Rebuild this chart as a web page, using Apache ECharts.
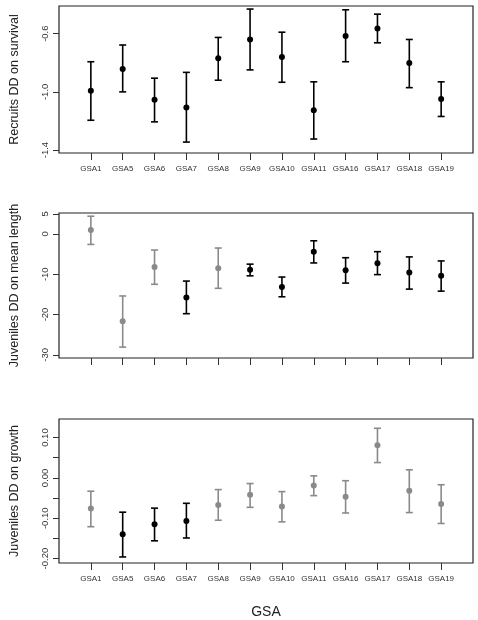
<!DOCTYPE html>
<html><head><meta charset="utf-8">
<script src="https://cdn.jsdelivr.net/npm/echarts@6/dist/echarts.min.js"></script>
<style>html,body{margin:0;padding:0;background:#fff}#c{width:478px;height:620px}</style>
</head><body><div id="c"></div>
<script>
const categories = ['GSA1','GSA5','GSA6','GSA7','GSA8','GSA9','GSA10','GSA11','GSA16','GSA17','GSA18','GSA19'];
// Panel 1: recruits DD on survival
const survMean = [-0.993,-0.842,-1.054,-1.108,-0.769,-0.640,-0.760,-1.126,-0.616,-0.565,-0.802,-1.049];
const survLow  = [-1.195,-1.000,-1.206,-1.345,-0.920,-0.849,-0.934,-1.324,-0.793,-0.663,-0.971,-1.169];
const survHigh = [-0.793,-0.678,-0.906,-0.866,-0.626,-0.431,-0.590,-0.931,-0.436,-0.466,-0.640,-0.931];
const survGray = [0,0,0,0,0,0,0,0,0,0,0,0];
// Panel 2: juveniles DD on mean length
const lenMean = [1.0,-21.7,-8.2,-15.8,-8.5,-8.9,-13.2,-4.4,-9.0,-7.3,-9.6,-10.4];
const lenLow  = [-2.6,-28.1,-12.5,-19.8,-13.5,-10.4,-15.6,-7.2,-12.2,-10.1,-13.7,-14.2];
const lenHigh = [4.4,-15.4,-4.0,-11.7,-3.5,-7.5,-10.7,-1.7,-5.9,-4.4,-5.7,-6.7];
const lenGray = [1,1,1,0,1,0,0,0,0,0,0,0];
// Panel 3: juveniles DD on growth
const grMean = [-0.076,-0.140,-0.115,-0.107,-0.067,-0.042,-0.071,-0.019,-0.047,0.081,-0.032,-0.065];
const grLow  = [-0.121,-0.196,-0.156,-0.149,-0.105,-0.073,-0.109,-0.044,-0.087,0.038,-0.086,-0.113];
const grHigh = [-0.033,-0.085,-0.075,-0.063,-0.029,-0.014,-0.034,0.005,-0.007,0.123,0.020,-0.017];
const grGray = [1,0,0,0,1,1,1,1,1,1,1,1];
const survTicks = [-1.4,-1.0,-0.6];
const lenTicks = [-30,-20,-10,0,5];
const grTicks = [-0.20,-0.10,0.00,0.10];
const grMinor = [-0.20,-0.15,-0.10,-0.05,0.00,0.05,0.10];

const BLACK='#000', GRAY='#8a8a8a';
const idx = categories.map((_,i)=>i+1);
const grids = [
  {left:54,right:5,top:6,height:147},
  {left:54,right:5,top:213,height:145},
  {left:54,right:5,top:419,height:148}
];
const panels = [
  {mean:survMean,lo:survLow,hi:survHigh,gray:survGray,min:-1.42,max:-0.41,ticks:survTicks,tickAll:survTicks,name:'Recruits DD on survival',fmt:v=>v.toFixed(1),labels:true},
  {mean:lenMean,lo:lenLow,hi:lenHigh,gray:lenGray,min:-30.8,max:5.2,ticks:lenTicks,tickAll:lenTicks,name:'Juveniles DD on mean length',fmt:v=>String(v),labels:false},
  {mean:grMean,lo:grLow,hi:grHigh,gray:grGray,min:-0.211,max:0.146,ticks:grTicks,tickAll:grMinor,name:'Juveniles DD on growth',fmt:v=>v.toFixed(2),labels:true}
];
const xAxis=[], yAxis=[], series=[];
panels.forEach((p,k)=>{
  xAxis.push({type:'value',gridIndex:k,min:0,max:13,position:'bottom',
    name:k===2?'GSA':'',nameLocation:'middle',nameGap:42,nameTextStyle:{fontSize:14,color:'#222',fontFamily:'Liberation Sans'},
    axisLine:{show:false,onZero:false},splitLine:{show:false},
    axisTick:{show:true,length:7,lineStyle:{color:'#333'},customValues:idx},
    axisLabel:{show:p.labels,fontSize:8,color:'#333',margin:12,fontFamily:'Liberation Sans',customValues:idx,formatter:v=>categories[Math.round(v)-1]||''}});
  yAxis.push({type:'value',gridIndex:k,min:p.min,max:p.max,position:'left',
    name:p.name,nameLocation:'middle',nameGap:38,nameTextStyle:{fontSize:12.5,color:'#222',fontFamily:'Liberation Sans'},
    axisLine:{show:false,onZero:false},splitLine:{show:false},
    axisTick:{show:true,length:6,lineStyle:{color:'#333'},customValues:p.tickAll},
    axisLabel:{rotate:90,fontSize:9.5,color:'#333',margin:9,fontFamily:'Liberation Sans',customValues:p.ticks,formatter:p.fmt}});
  const data = p.mean.map((m,i)=>[i+1,p.lo[i],p.hi[i],m,p.gray[i]]);
  series.push({type:'custom',xAxisIndex:k,yAxisIndex:k,data,
    renderItem:(params,api)=>{
      const x=api.value(0);
      const lo=api.coord([x,api.value(1)]), hi=api.coord([x,api.value(2)]), m=api.coord([x,api.value(3)]);
      const c=api.value(4)?GRAY:BLACK, w=3.5;
      const st={stroke:c,lineWidth:1.6};
      return {type:'group',children:[
        {type:'line',shape:{x1:lo[0],y1:lo[1],x2:hi[0],y2:hi[1]},style:st},
        {type:'line',shape:{x1:lo[0]-w,y1:lo[1],x2:lo[0]+w,y2:lo[1]},style:st},
        {type:'line',shape:{x1:hi[0]-w,y1:hi[1],x2:hi[0]+w,y2:hi[1]},style:st},
        {type:'circle',shape:{cx:m[0],cy:m[1],r:3},style:{fill:c}}
      ]};
    }});
});
const chart=echarts.init(document.getElementById('c'));
chart.setOption({animation:false,
  grid:grids.map(g=>Object.assign({show:true,borderColor:'#222',borderWidth:1.2,backgroundColor:'transparent'},g)),
  xAxis,yAxis,series});
</script></body></html>
